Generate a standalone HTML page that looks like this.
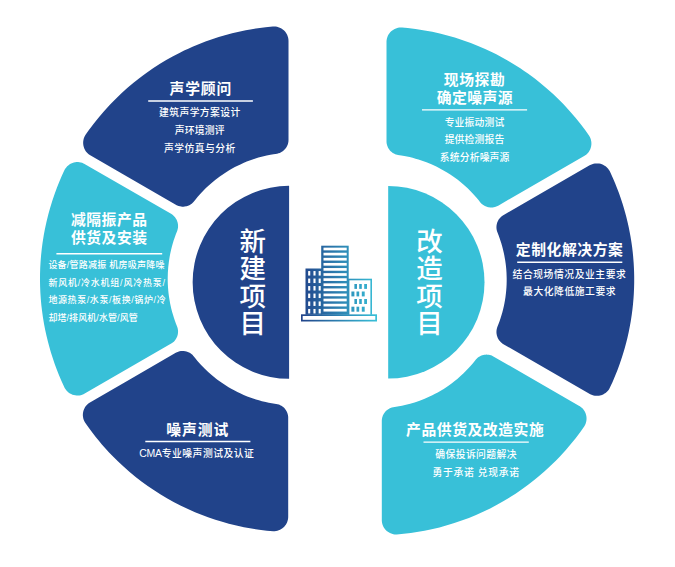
<!DOCTYPE html>
<html lang="zh-CN">
<head>
<meta charset="utf-8">
<title>项目服务流程</title>
<style>
html,body{margin:0;padding:0;background:#fff;}
body{width:675px;height:567px;overflow:hidden;}
svg{display:block;}
text{font-family:"Liberation Sans","Noto Sans CJK SC",sans-serif;fill:#fff;}
.t{font-weight:bold;font-size:14.8px;text-anchor:middle;}
.b{font-size:9.8px;text-anchor:middle;font-weight:500;}
.bl{font-size:9.0px;text-anchor:start;font-weight:500;}
.c{font-size:26.5px;text-anchor:middle;font-weight:500;}
.r{stroke:#fff;stroke-width:1.4;}
</style>
</head>
<body>
<svg width="675" height="567" viewBox="0 0 675 567">
<defs><linearGradient id="g" gradientUnits="userSpaceOnUse" x1="301" y1="0" x2="377" y2="0"><stop offset="0" stop-color="#21438a"/><stop offset="1" stop-color="#38c0d8"/></linearGradient></defs>
<rect width="675" height="567" fill="#fff"/>
<path fill="#21438a" d="M84.97,135.76 84.35,137.03 83.85,138.35 83.65,139.02 83.35,140.40 83.18,141.80 83.15,143.21 83.26,144.61 83.50,146.00 83.88,147.36 84.38,148.67 85.01,149.93 85.76,151.13 86.63,152.24 87.59,153.26 88.65,154.19 89.80,155.01 176.66,205.16 177.28,205.46 178.57,205.97 179.90,206.35 181.27,206.59 181.96,206.66 183.34,206.70 184.73,206.60 186.09,206.37 186.76,206.20 188.08,205.77 189.35,205.21 190.55,204.53 191.69,203.73 192.22,203.29 193.22,202.33 193.69,201.82 195.75,199.23 197.72,196.85 199.75,194.53 201.84,192.25 203.98,190.03 206.18,187.86 208.43,185.74 210.73,183.68 213.07,181.68 215.47,179.73 219.78,176.48 224.23,173.40 228.80,170.53 232.14,168.59 234.85,167.12 237.60,165.71 240.38,164.38 243.90,162.80 246.76,161.62 249.64,160.51 252.54,159.46 255.47,158.50 258.43,157.60 263.65,156.20 266.66,155.51 270.44,154.74 273.48,154.21 277.12,153.66 278.46,153.34 279.77,152.88 281.02,152.30 282.21,151.59 282.78,151.20 283.85,150.33 284.84,149.35 285.29,148.83 286.12,147.72 286.84,146.54 287.43,145.29 287.68,144.65 288.08,143.32 288.36,141.97 288.44,141.28 288.51,139.90 288.51,41.00 288.44,39.59 288.24,38.20 288.08,37.51 287.68,36.16 287.14,34.85 286.83,34.22 286.11,33.00 285.27,31.87 284.82,31.33 283.83,30.32 282.74,29.42 282.17,29.01 280.97,28.27 279.70,27.66 279.04,27.39 277.70,26.97 277.01,26.81 275.62,26.58 274.21,26.49 272.80,26.54 265.60,27.23 257.91,28.21 250.34,29.40 245.76,30.24 241.20,31.16 236.66,32.16 232.14,33.25 227.64,34.42 223.16,35.68 218.70,37.01 214.27,38.43 209.87,39.93 205.49,41.51 201.15,43.17 196.83,44.91 192.55,46.73 188.30,48.63 184.09,50.60 179.92,52.65 173.05,56.24 166.21,60.09 159.58,64.10 153.06,68.30 146.69,72.71 142.93,75.45 139.29,78.20 133.22,83.02 127.23,88.09 121.47,93.28 115.88,98.65 112.60,101.95 109.44,105.24 104.22,110.97 99.11,116.92 94.25,122.96 91.42,126.65 88.72,130.33 85.72,134.57Z"/>
<path fill="#38c0d8" d="M84.72,393.58 171.65,343.37 172.78,342.56 173.82,341.65 174.30,341.15 175.19,340.09 175.60,339.53 176.33,338.35 176.94,337.10 177.19,336.46 177.42,335.80 177.77,334.46 177.98,333.09 178.04,332.40 178.05,331.02 177.93,329.64 177.66,328.28 177.27,326.95 175.88,323.39 174.82,320.49 173.83,317.56 172.92,314.61 172.07,311.64 171.30,308.65 170.13,303.38 169.57,300.34 168.97,296.53 168.57,293.47 168.25,290.40 168.00,287.32 167.83,284.24 167.73,281.15 167.71,278.07 167.86,272.67 168.24,267.28 168.85,261.91 169.69,256.57 170.27,253.54 171.11,249.77 171.85,246.78 172.68,243.80 173.57,240.85 174.54,237.92 175.85,234.29 177.27,230.65 177.66,229.32 177.93,227.96 178.01,227.27 178.06,225.89 177.98,224.51 177.77,223.14 177.61,222.46 177.19,221.14 176.65,219.87 175.98,218.65 175.20,217.51 174.30,216.45 173.31,215.48 172.22,214.62 171.06,213.87 84.10,163.68 83.46,163.38 82.16,162.86 80.80,162.47 79.42,162.21 78.02,162.09 76.61,162.10 75.21,162.25 73.83,162.54 72.49,162.95 71.19,163.50 70.56,163.82 69.36,164.55 68.23,165.39 67.19,166.34 66.25,167.38 65.41,168.51 65.03,169.10 64.36,170.34 61.72,176.11 59.30,181.74 56.99,187.52 54.79,193.44 52.32,200.71 50.03,208.15 48.35,214.23 46.51,221.70 44.87,229.30 43.71,235.50 42.52,243.10 41.72,249.27 41.07,255.46 40.57,261.66 40.23,267.87 40.03,274.09 39.99,280.31 40.11,286.53 40.37,292.75 40.79,298.96 41.36,305.15 42.09,311.33 42.96,317.49 43.99,323.63 45.16,329.74 46.49,335.82 47.96,341.86 49.58,347.87 50.92,352.43 52.80,358.36 54.79,364.16 56.96,370.00 58.71,374.42 61.13,380.15 63.65,385.74 64.68,387.89 65.41,389.09 66.25,390.22 67.19,391.26 68.23,392.21 68.79,392.65 69.95,393.43 71.19,394.10 72.49,394.65 73.83,395.06 75.21,395.35 76.61,395.50 78.02,395.51 79.42,395.39 80.80,395.13 82.16,394.74 83.46,394.22Z"/>
<path fill="#21438a" d="M288.19,417.11 288.06,415.73 287.78,414.38 287.60,413.71 287.13,412.41 286.85,411.78 286.53,411.16 285.82,409.97 285.42,409.41 284.54,408.34 283.55,407.37 283.03,406.92 281.91,406.10 280.72,405.40 279.46,404.82 278.82,404.57 277.49,404.18 276.13,403.93 271.73,403.24 268.70,402.68 265.68,402.04 261.92,401.14 258.94,400.34 255.98,399.46 253.05,398.51 250.13,397.49 247.25,396.40 243.68,394.93 240.15,393.36 237.37,392.02 234.62,390.62 231.23,388.77 228.56,387.21 225.94,385.59 221.43,382.61 217.06,379.43 212.83,376.07 210.48,374.07 208.18,372.01 204.83,368.82 201.07,364.94 197.47,360.91 195.50,358.53 193.38,355.88 192.43,354.87 191.38,353.97 190.82,353.55 189.65,352.81 188.42,352.19 187.77,351.93 186.46,351.49 185.11,351.19 183.73,351.03 183.04,351.00 181.65,351.04 180.97,351.11 179.60,351.35 178.93,351.53 177.62,351.97 176.98,352.24 175.75,352.87 131.86,378.21 131.89,378.28 89.52,402.69 88.37,403.51 87.31,404.44 86.82,404.94 86.34,405.46 85.48,406.58 84.73,407.77 84.40,408.39 83.83,409.68 83.38,411.02 83.07,412.40 82.97,413.10 82.86,414.50 82.89,415.91 83.06,417.31 83.36,418.69 83.79,420.03 84.35,421.32 85.04,422.56 87.51,426.11 90.25,429.87 93.05,433.58 95.93,437.24 98.87,440.85 101.87,444.40 105.92,448.98 109.08,452.39 112.30,455.75 117.86,461.28 123.52,466.58 129.35,471.69 135.33,476.63 141.45,481.38 147.72,485.94 154.13,490.30 160.67,494.47 167.33,498.43 174.03,502.15 180.93,505.70 187.92,509.04 195.02,512.16 200.85,514.53 208.02,517.22 215.36,519.72 221.37,521.59 228.84,523.68 236.36,525.54 243.94,527.16 251.48,528.54 259.15,529.70 266.84,530.63 273.20,531.20 274.61,531.18 276.02,531.02 277.40,530.73 278.74,530.31 280.04,529.75 281.28,529.07 282.44,528.28 283.00,527.84 284.03,526.89 284.97,525.83 285.81,524.70 286.53,523.48 287.13,522.20 287.60,520.87 287.94,519.50 288.06,518.81 288.19,517.41 288.21,516.70Z"/>
<path fill="#38c0d8" d="M400.79,27.49 399.38,27.58 397.99,27.81 397.30,27.97 395.96,28.40 394.66,28.95 393.42,29.63 392.26,30.42 391.17,31.33 390.18,32.33 389.30,33.43 388.52,34.60 387.86,35.85 387.32,37.16 386.92,38.51 386.64,39.89 386.51,41.30 386.51,141.90 386.64,143.27 386.76,143.96 387.10,145.30 387.57,146.60 387.85,147.23 388.51,148.45 389.28,149.60 389.71,150.14 390.64,151.16 391.67,152.09 392.79,152.90 393.98,153.61 395.24,154.19 395.89,154.43 397.21,154.82 397.89,154.97 401.32,155.49 404.34,156.01 409.60,157.11 412.58,157.83 415.54,158.63 418.48,159.51 421.40,160.45 426.45,162.27 431.41,164.31 436.29,166.56 439.03,167.94 441.73,169.38 444.40,170.89 447.04,172.47 450.27,174.53 452.81,176.25 455.31,178.03 457.76,179.87 460.17,181.77 463.11,184.23 465.41,186.26 467.66,188.35 469.85,190.49 472.00,192.69 474.09,194.93 476.12,197.23 478.09,199.58 480.56,202.65 481.52,203.66 482.56,204.56 483.69,205.36 484.90,206.04 485.52,206.33 486.82,206.83 488.15,207.20 488.83,207.33 490.20,207.49 491.59,207.52 492.97,207.41 493.65,207.31 495.00,207.00 496.31,206.56 497.57,205.99 498.18,205.66 584.15,156.12 585.33,155.36 586.44,154.49 586.96,154.01 587.93,152.99 588.37,152.44 589.18,151.29 589.87,150.06 590.17,149.42 590.68,148.10 591.06,146.74 591.30,145.36 591.37,144.66 591.41,143.25 591.31,141.84 591.21,141.14 590.91,139.76 590.71,139.09 590.21,137.77 589.59,136.50 588.84,135.31 584.97,129.87 580.36,123.77 575.50,117.74 572.45,114.13 569.38,110.64 566.25,107.21 563.06,103.84 559.81,100.53 556.49,97.28 553.12,94.09 549.69,90.96 546.20,87.90 542.66,84.90 539.06,81.96 535.41,79.10 531.71,76.30 527.95,73.57 524.15,70.91 520.29,68.31 513.77,64.16 507.12,60.20 500.35,56.45 496.32,54.34 492.16,52.26 485.16,48.98 478.06,45.91 470.78,43.02 463.50,40.39 459.19,38.95 454.76,37.56 447.32,35.43 439.82,33.53 432.26,31.85 424.57,30.40 420.08,29.66 415.49,28.99 407.72,28.06 402.20,27.54Z"/>
<path fill="#21438a" d="M590.24,394.22 591.52,394.80 592.86,395.26 593.54,395.44 594.93,395.69 595.63,395.77 597.05,395.82 597.75,395.80 599.16,395.64 599.85,395.51 601.22,395.16 601.89,394.93 603.19,394.38 603.82,394.05 605.02,393.32 605.60,392.91 606.68,392.00 607.67,391.00 608.57,389.90 609.35,388.72 609.69,388.11 610.64,386.12 612.57,381.89 615.56,374.84 617.31,370.44 619.43,364.71 621.45,358.85 622.90,354.34 624.63,348.48 626.25,342.50 627.39,337.90 628.73,331.94 629.94,325.86 630.76,321.20 631.71,315.07 632.49,309.02 633.00,304.31 633.52,298.22 633.83,293.49 634.09,287.30 634.19,282.65 634.19,276.55 634.09,271.90 633.90,267.17 633.63,262.53 633.15,256.44 632.68,251.81 632.11,247.11 631.47,242.51 630.50,236.47 629.66,231.90 628.73,227.26 627.72,222.72 626.27,216.79 625.05,212.21 623.77,207.74 622.41,203.30 620.49,197.50 618.94,193.12 617.27,188.68 615.01,183.01 613.19,178.73 610.61,173.00 609.69,171.09 609.35,170.48 608.97,169.88 608.13,168.74 607.19,167.69 606.15,166.73 605.60,166.29 605.02,165.88 603.82,165.15 602.54,164.53 601.22,164.04 600.54,163.85 599.16,163.56 598.46,163.46 597.05,163.38 596.34,163.39 594.93,163.51 593.54,163.76 592.19,164.15 591.52,164.40 590.87,164.68 589.62,165.32 502.85,215.43 501.73,216.24 501.20,216.69 500.20,217.65 499.31,218.71 498.52,219.85 498.18,220.45 497.57,221.69 497.31,222.34 496.89,223.66 496.61,225.01 496.52,225.70 496.44,227.08 496.45,227.77 496.57,229.15 496.69,229.84 497.01,231.18 497.23,231.84 498.57,235.30 499.63,238.18 501.30,243.28 502.15,246.23 502.93,249.19 503.64,252.18 504.28,255.18 505.22,260.46 505.65,263.50 506.01,266.55 506.29,269.60 506.50,272.66 506.68,278.03 506.68,281.10 506.61,284.16 506.46,287.23 506.23,290.29 505.93,293.34 505.45,297.14 504.98,300.17 504.44,303.19 503.83,306.20 503.14,309.19 502.37,312.16 501.54,315.11 500.63,318.04 499.65,320.95 498.60,323.83 497.23,327.36 496.83,328.69 496.57,330.05 496.45,331.43 496.46,332.81 496.52,333.50 496.74,334.87 496.89,335.54 497.31,336.86 497.86,338.14 498.18,338.75 498.90,339.93 499.31,340.49 500.20,341.55 500.69,342.04 501.73,342.96 502.28,343.38 503.44,344.13Z"/>
<path fill="#38c0d8" d="M492.94,356.14 491.68,355.57 491.03,355.33 489.70,354.95 489.02,354.81 487.64,354.63 486.26,354.59 485.57,354.63 484.19,354.79 483.51,354.93 482.17,355.29 480.88,355.79 479.64,356.41 479.05,356.77 477.92,357.57 477.38,358.01 476.38,358.96 475.91,359.48 472.95,363.15 470.97,365.49 468.40,368.34 465.75,371.11 463.57,373.27 461.33,375.37 457.30,378.91 454.33,381.34 451.90,383.21 448.80,385.47 446.27,387.20 443.70,388.88 441.09,390.49 437.77,392.41 435.08,393.87 432.35,395.27 429.58,396.60 424.67,398.76 419.67,400.71 414.58,402.44 410.17,403.75 404.97,405.07 401.97,405.73 398.96,406.31 393.18,407.23 391.84,407.56 390.53,408.01 389.90,408.29 388.67,408.93 387.52,409.69 386.45,410.57 385.46,411.54 385.01,412.06 384.18,413.17 383.81,413.75 383.15,414.97 382.87,415.60 382.40,416.90 382.22,417.57 381.94,418.93 381.81,420.30 381.79,420.99 381.81,520.70 381.94,522.11 382.22,523.49 382.40,524.17 382.87,525.50 383.16,526.15 383.82,527.39 384.19,527.99 385.03,529.13 385.97,530.18 387.00,531.14 387.56,531.58 388.72,532.37 389.96,533.05 391.26,533.60 391.93,533.83 393.29,534.19 394.68,534.42 395.39,534.48 396.80,534.50 401.46,534.10 406.07,533.60 410.76,533.01 415.35,532.34 419.93,531.59 424.49,530.76 430.46,529.53 434.99,528.50 439.49,527.39 446.95,525.35 454.34,523.08 461.66,520.59 468.90,517.88 476.05,514.94 483.11,511.79 490.15,508.38 497.00,504.80 503.66,501.05 510.28,497.06 515.56,493.67 521.95,489.31 528.13,484.82 534.24,480.08 539.09,476.10 544.92,471.03 550.54,465.85 556.06,460.43 560.41,455.92 565.62,450.20 570.65,444.33 575.44,438.38 580.16,432.14 582.81,428.45 584.36,426.19 585.05,424.96 585.61,423.67 586.04,422.33 586.34,420.95 586.51,419.55 586.54,418.14 586.50,417.44 586.33,416.04 586.02,414.67 585.58,413.33 585.01,412.04 584.32,410.81 583.93,410.22 583.07,409.11 582.10,408.08 581.04,407.16 579.89,406.34 579.29,405.97Z"/>
<path fill="#21438a" d="M289.10,185.80A96.5,96.5 0 0 0 289.10,378.80Z"/>
<path fill="#38c0d8" d="M388.20,186.00A96.3,96.3 0 0 1 388.20,378.60Z"/>
<g fill="url(#g)">
<rect x="301" y="314.3" width="76" height="7.2"/>
<rect x="302.7" y="316" width="72.6" height="3.8" fill="#fff"/>
<rect x="321.2" y="245.7" width="27.5" height="69"/>
<rect x="305.5" y="268.5" width="16.5" height="46.2"/>
<rect x="347.8" y="278.7" width="24.2" height="36"/>
<rect x="349.4" y="280.3" width="21" height="34" fill="#fff"/>
<rect x="354.4" y="284" width="2.6" height="4.9"/>
<rect x="359.2" y="284" width="2.6" height="4.9"/>
<rect x="364.2" y="284" width="2.8" height="4.9"/>
<rect x="351.4" y="291.5" width="3.0" height="4.9"/>
<rect x="356.5" y="291.5" width="2.7" height="4.9"/>
<rect x="361.8" y="291.5" width="2.9" height="4.9"/>
<rect x="354.4" y="299" width="2.6" height="5.0"/>
<rect x="359.2" y="299" width="2.6" height="5.0"/>
<rect x="364.2" y="299" width="2.8" height="5.0"/>
<rect x="351.4" y="306.7" width="3.0" height="5.0"/>
<rect x="356.5" y="306.7" width="2.7" height="5.0"/>
<rect x="361.8" y="306.7" width="2.9" height="5.0"/>
</g>
<g fill="#fff">
<rect x="323.5" y="247.65" width="23.2" height="2.7"/>
<rect x="323.5" y="252.75" width="23.2" height="2.7"/>
<rect x="323.5" y="257.85" width="23.2" height="2.7"/>
<rect x="323.5" y="262.95" width="23.2" height="2.7"/>
<rect x="323.5" y="268.05" width="23.2" height="2.7"/>
<rect x="323.5" y="273.15" width="23.2" height="2.7"/>
<rect x="323.5" y="278.25" width="23.2" height="2.7"/>
<rect x="323.5" y="283.35" width="23.2" height="2.7"/>
<rect x="323.5" y="288.45" width="23.2" height="2.7"/>
<rect x="323.5" y="293.55" width="23.2" height="2.7"/>
<rect x="323.5" y="298.65" width="23.2" height="2.7"/>
<rect x="323.5" y="303.75" width="23.2" height="2.7"/>
<rect x="323.5" y="308.85" width="23.2" height="2.7"/>
<rect x="308.15" y="271.05" width="2.1" height="4.5"/>
<rect x="313.45" y="271.05" width="2.1" height="4.5"/>
<rect x="318.65" y="271.05" width="2.1" height="4.5"/>
<rect x="308.15" y="278.55" width="2.1" height="4.5"/>
<rect x="313.45" y="278.55" width="2.1" height="4.5"/>
<rect x="318.65" y="278.55" width="2.1" height="4.5"/>
<rect x="308.15" y="286.05" width="2.1" height="4.5"/>
<rect x="313.45" y="286.05" width="2.1" height="4.5"/>
<rect x="318.65" y="286.05" width="2.1" height="4.5"/>
<rect x="308.15" y="293.55" width="2.1" height="4.5"/>
<rect x="313.45" y="293.55" width="2.1" height="4.5"/>
<rect x="318.65" y="293.55" width="2.1" height="4.5"/>
<rect x="308.15" y="301.45" width="2.1" height="4.5"/>
<rect x="313.45" y="301.45" width="2.1" height="4.5"/>
<rect x="318.65" y="301.45" width="2.1" height="4.5"/>
<rect x="308.15" y="308.95" width="2.1" height="4.5"/>
<rect x="313.45" y="308.95" width="2.1" height="4.5"/>
<rect x="318.65" y="308.95" width="2.1" height="4.5"/>
</g>
<text class="t" x="200.85" y="93.58" style="letter-spacing:0.900px">声学顾问</text>
<text class="b" x="199.84" y="116.03" style="letter-spacing:0.390px">建筑声学方案设计</text>
<text class="b" x="199.72" y="134.28" style="letter-spacing:0.230px">声环境测评</text>
<text class="b" x="199.82" y="151.63" style="letter-spacing:0.450px">声学仿真与分析</text>
<text class="t" x="109.27" y="225.28" style="letter-spacing:0.490px">减隔振产品</text>
<text class="t" x="109.27" y="242.68" style="letter-spacing:0.490px">供货及安装</text>
<text class="bl" x="48.38" y="267.84" style="letter-spacing:0.240px">设备/管路减振 机房吸声降噪</text>
<text class="bl" x="48.38" y="285.79" style="letter-spacing:0.780px">新风机/冷水机组/风冷热泵/</text>
<text class="bl" x="48.38" y="303.39" style="letter-spacing:0.590px">地源热泵/水泵/板换/锅炉/冷</text>
<text class="bl" x="48.38" y="321.34" style="letter-spacing:0.080px">却塔/排风机/水管/风管</text>
<text class="t" x="197.70" y="434.63" style="letter-spacing:0.960px">噪声测试</text>
<text class="b" x="196.83" y="457.08" style="letter-spacing:0.490px"><tspan style="font-size:10.5px;letter-spacing:-0.3px">CMA</tspan>专业噪声测试及认证</text>
<text class="t" x="474.60" y="85.38" style="letter-spacing:0.600px">现场探勘</text>
<text class="t" x="474.88" y="103.48" style="letter-spacing:0.450px">确定噪声源</text>
<text class="b" x="474.52" y="125.53" style="letter-spacing:0.150px">专业振动测试</text>
<text class="b" x="474.52" y="143.38" style="letter-spacing:0.150px">提供检测报告</text>
<text class="b" x="474.67" y="161.18" style="letter-spacing:0.150px">系统分析噪声源</text>
<text class="t" x="569.59" y="254.83" style="letter-spacing:0.570px">定制化解决方案</text>
<text class="b" x="569.47" y="277.83" style="letter-spacing:0.550px">结合现场情况及业主要求</text>
<text class="b" x="569.61" y="295.23" style="letter-spacing:0.540px">最大化降低施工要求</text>
<text class="t" x="475.19" y="435.23" style="letter-spacing:0.570px">产品供货及改造实施</text>
<text class="b" x="476.14" y="458.43" style="letter-spacing:0.410px">确保投诉问题解决</text>
<text class="b" x="476.06" y="476.38" style="letter-spacing:0.670px">勇于承诺 兑现承诺</text>
<line class="r" x1="148.2" y1="101.0" x2="252.9" y2="101.0"/>
<line class="r" x1="56.4" y1="253.7" x2="162.2" y2="253.7"/>
<line class="r" x1="145.3" y1="441.5" x2="250.4" y2="441.5"/>
<line class="r" x1="422" y1="109.9" x2="527.1" y2="109.9"/>
<line class="r" x1="517.2" y1="262.2" x2="622.3" y2="262.2"/>
<line class="r" x1="423.5" y1="442.1" x2="528.8" y2="442.1"/>
<text class="c" x="252.70" y="251.34">新</text>
<text class="c" x="252.70" y="278.44">建</text>
<text class="c" x="252.70" y="305.54">项</text>
<text class="c" x="252.70" y="332.64">目</text>
<text class="c" x="429.40" y="251.34">改</text>
<text class="c" x="429.40" y="278.44">造</text>
<text class="c" x="429.40" y="305.54">项</text>
<text class="c" x="429.40" y="332.64">目</text>
</svg>
</body>
</html>
